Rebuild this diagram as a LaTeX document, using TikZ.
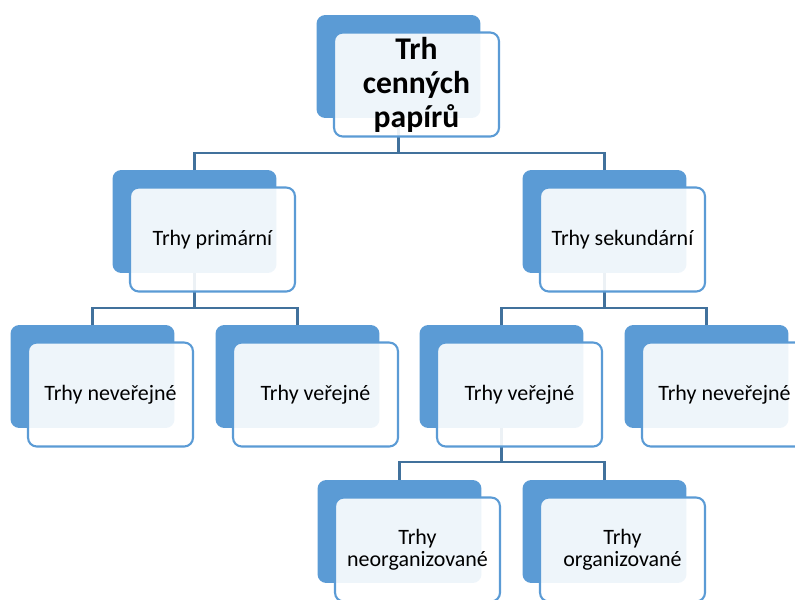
\documentclass[tikz,border=0pt]{standalone}
\usepackage{fontspec}
\setmainfont{Carlito}
\usetikzlibrary{positioning}
\definecolor{boxblue}{HTML}{5B9BD5}
\definecolor{lineblue}{HTML}{41719C}

\begin{document}
\begin{tikzpicture}[
  x=0.02cm, y=-0.02cm,
  font=\fontsize{12.5}{12.8}\selectfont,
  back/.style={fill=boxblue, rounded corners=5pt, minimum width=3.28cm, minimum height=2.06cm, inner sep=0pt},
  front/.style={draw=boxblue, line width=1.2pt, fill=white, fill opacity=0.9, text opacity=1,
                rounded corners=5pt, minimum width=3.3cm, minimum height=2.08cm, align=center, inner sep=0pt},
  title/.style={front, font=\fontsize{18}{19.3}\selectfont\bfseries},
  link/.style={draw=lineblue, line width=1.2pt}
]
\useasboundingbox (0,0) rectangle (795,599);
% back plates
\node[back] (topb)  at (398.5,66.5)  {};
\node[back] (primb) at (194.5,221.5) {};
\node[back] (sekb)  at (604.5,221.5) {};
\node[back] (pnvb)  at (92.5,376.5)  {};
\node[back] (pvb)   at (297.5,376.5) {};
\node[back] (svb)   at (501.5,376.5) {};
\node[back] (snvb)  at (706.5,376.5) {};
\node[back] (neob)  at (399.5,531.5) {};
\node[back] (orgb)  at (604.5,531.5) {};
% junctions
\coordinate (j0) at (398.5,153);
\coordinate (j1) at (194.5,308);
\coordinate (j2) at (604.5,308);
\coordinate (j3) at (501.5,462);
% connectors
\draw[link] (topb.south) -- (j0) -| (primb.north);
\draw[link] (j0) -| (sekb.north);
\draw[link] (primb.south) -- (j1) -| (pnvb.north);
\draw[link] (j1) -| (pvb.north);
\draw[link] (sekb.south) -- (j2) -| (svb.north);
\draw[link] (j2) -| (snvb.north);
\draw[link] (svb.south) -- (j3) -| (neob.north);
\draw[link] (j3) -| (orgb.north);
% front cards
\node[title] (top)  at (416.5,84.5)  {Trh\\cenných\\papírů};
\node[front] (prim) at (212.5,239.5) {Trhy primární};
\node[front] (sek)  at (622.5,239.5) {Trhy sekundární};
\node[front] (pnv)  at (110.5,394.5) {Trhy neveřejné};
\node[front] (pv)   at (315.5,394.5) {Trhy veřejné};
\node[front] (sv)   at (519.5,394.5) {Trhy veřejné};
\node[front] (snv)  at (724.5,394.5) {Trhy neveřejné};
\node[front] (neo)  at (417.5,549.5) {Trhy\\neorganizované};
\node[front] (org)  at (622.5,549.5) {Trhy\\organizované};
\end{tikzpicture}
\end{document}
